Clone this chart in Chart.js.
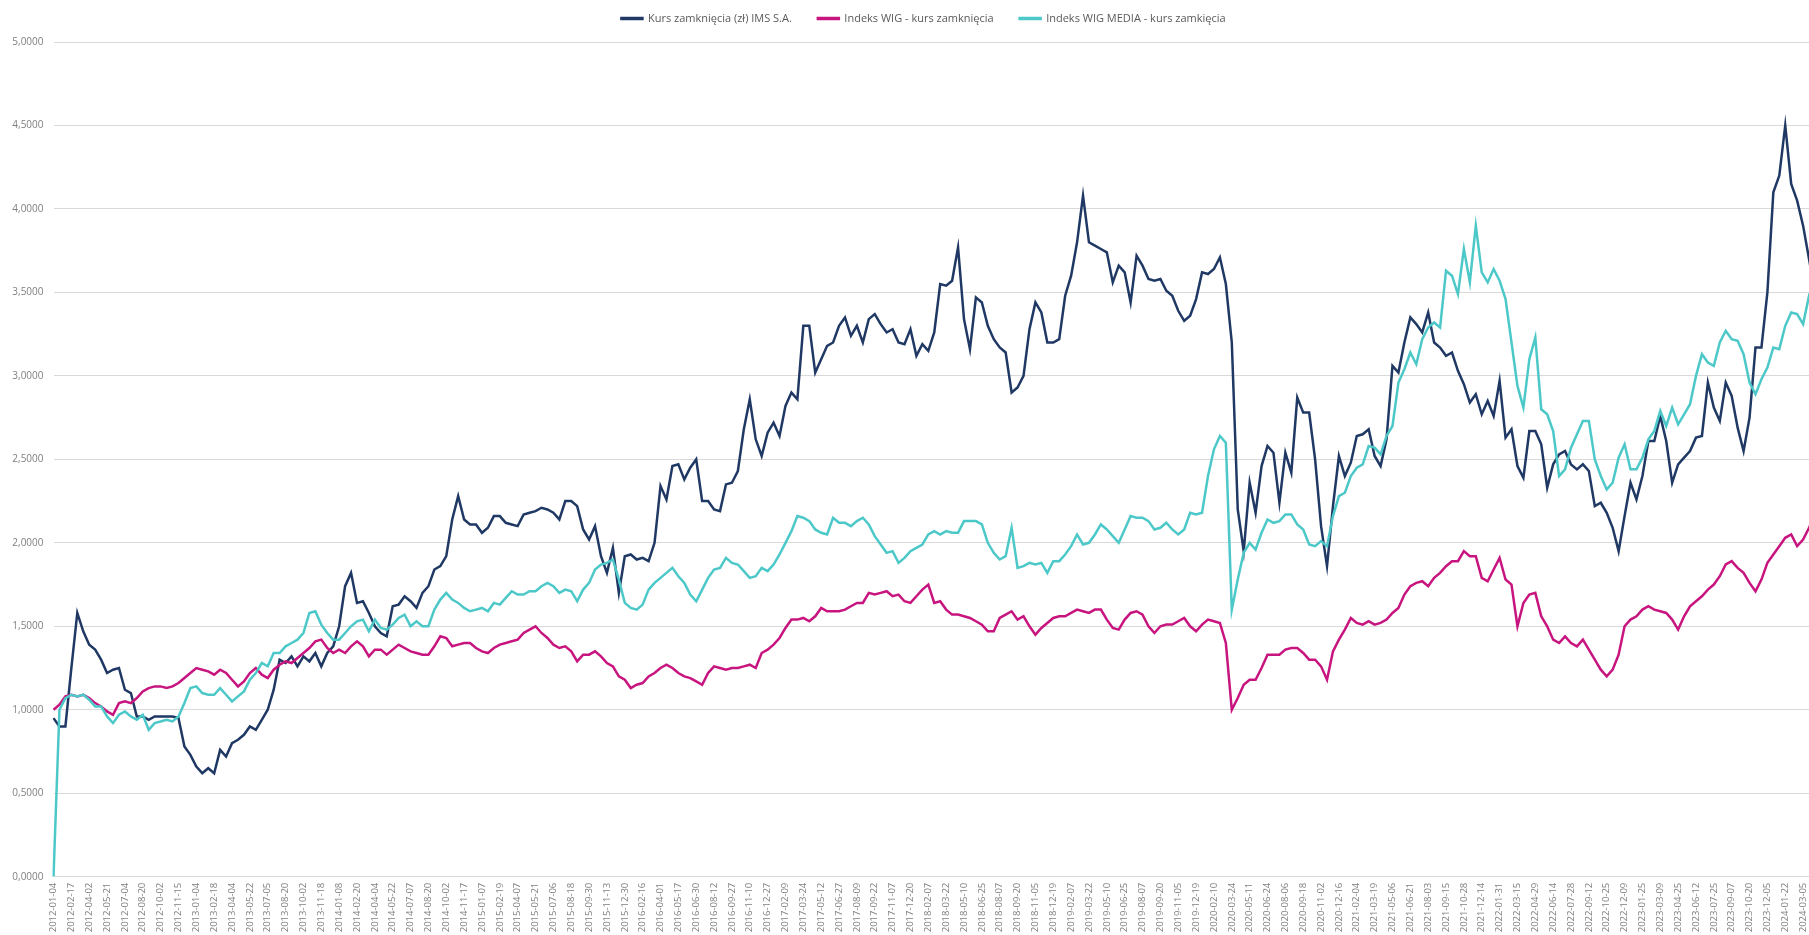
<!DOCTYPE html>
<html>
<head>
<meta charset="utf-8">
<script src="https://cdn.jsdelivr.net/npm/chart.js@4"></script>
<style>
  html, body { margin: 0; padding: 0; background: #fff; overflow: hidden; }
  #wrap { width: 1846px; height: 935px; }
</style>
</head>
<body>
<div id="wrap"><canvas id="chart" width="1846" height="935"></canvas></div>
<script>
// tick dates shown on the x axis (one every 3 points)
const tickDates = [
  '2012-01-04','2012-02-17','2012-04-02','2012-05-21','2012-07-04','2012-08-20','2012-10-02','2012-11-15',
  '2013-01-04','2013-02-18','2013-04-04','2013-05-22','2013-07-05','2013-08-20','2013-10-02','2013-11-18',
  '2014-01-08','2014-02-20','2014-04-04','2014-05-22','2014-07-07','2014-08-20','2014-10-02','2014-11-17',
  '2015-01-07','2015-02-19','2015-04-07','2015-05-21','2015-07-06','2015-08-18','2015-09-30','2015-11-13','2015-12-30',
  '2016-02-16','2016-04-01','2016-05-17','2016-06-30','2016-08-12','2016-09-27','2016-11-10','2016-12-27',
  '2017-02-09','2017-03-24','2017-05-12','2017-06-27','2017-08-09','2017-09-22','2017-11-07','2017-12-20',
  '2018-02-07','2018-03-22','2018-05-10','2018-06-25','2018-08-07','2018-09-20','2018-11-05','2018-12-19',
  '2019-02-07','2019-03-22','2019-05-10','2019-06-25','2019-08-07','2019-09-20','2019-11-05','2019-12-19',
  '2020-02-10','2020-03-24','2020-05-11','2020-06-24','2020-08-06','2020-09-18','2020-11-02','2020-12-16',
  '2021-02-04','2021-03-19','2021-05-06','2021-06-21','2021-08-03','2021-09-15','2021-10-28','2021-12-14',
  '2022-01-31','2022-03-15','2022-04-29','2022-06-14','2022-07-28','2022-09-12','2022-10-25','2022-12-09',
  '2023-01-25','2023-03-09','2023-04-25','2023-06-12','2023-07-25','2023-09-07','2023-10-20','2023-12-05',
  '2024-01-22','2024-03-05'
];
const pointsPerTick = 3;

// Kurs zamknięcia (zł) IMS S.A.
const imsClose = [
  0.95,0.90,0.90,1.25,1.58,1.47,1.39,1.36,1.30,1.22,
  1.24,1.25,1.12,1.10,0.96,0.96,0.94,0.96,0.96,0.96,
  0.96,0.95,0.78,0.73,0.66,0.62,0.65,0.62,0.76,0.72,
  0.80,0.82,0.85,0.90,0.88,0.94,1.00,1.12,1.30,1.28,
  1.32,1.26,1.32,1.29,1.34,1.26,1.34,1.38,1.50,1.74,
  1.82,1.64,1.65,1.58,1.50,1.46,1.44,1.62,1.63,1.68,
  1.65,1.61,1.70,1.74,1.84,1.86,1.92,2.14,2.28,2.14,
  2.11,2.11,2.06,2.09,2.16,2.16,2.12,2.11,2.10,2.17,
  2.18,2.19,2.21,2.20,2.18,2.14,2.25,2.25,2.22,2.08,
  2.02,2.10,1.92,1.82,1.97,1.70,1.92,1.93,1.90,1.91,
  1.89,2.00,2.34,2.26,2.46,2.47,2.38,2.45,2.50,2.25,
  2.25,2.20,2.19,2.35,2.36,2.43,2.68,2.86,2.62,2.52,
  2.66,2.72,2.64,2.82,2.90,2.86,3.30,3.30,3.02,3.10,
  3.18,3.20,3.30,3.35,3.24,3.30,3.20,3.34,3.37,3.31,
  3.26,3.28,3.20,3.19,3.28,3.12,3.19,3.15,3.26,3.55,
  3.54,3.57,3.77,3.34,3.16,3.47,3.44,3.30,3.22,3.17,
  3.14,2.90,2.93,3.00,3.28,3.44,3.38,3.20,3.20,3.22,
  3.48,3.60,3.80,4.08,3.80,3.78,3.76,3.74,3.56,3.66,
  3.62,3.44,3.72,3.66,3.58,3.57,3.58,3.51,3.48,3.39,
  3.33,3.36,3.46,3.62,3.61,3.64,3.71,3.55,3.20,2.20,
  1.95,2.36,2.18,2.46,2.58,2.54,2.24,2.54,2.42,2.87,
  2.78,2.78,2.50,2.10,1.86,2.22,2.52,2.40,2.48,2.64,
  2.65,2.68,2.52,2.46,2.62,3.06,3.02,3.20,3.35,3.31,
  3.26,3.38,3.20,3.17,3.12,3.14,3.03,2.95,2.84,2.89,
  2.77,2.85,2.76,2.97,2.63,2.68,2.46,2.39,2.67,2.67,
  2.59,2.33,2.47,2.53,2.55,2.47,2.44,2.47,2.43,2.22,
  2.24,2.18,2.09,1.95,2.16,2.36,2.26,2.40,2.61,2.61,
  2.76,2.61,2.36,2.47,2.51,2.55,2.63,2.64,2.96,2.81,
  2.73,2.96,2.88,2.69,2.55,2.75,3.17,3.17,3.50,4.10,
  4.20,4.50,4.15,4.05,3.90,3.70,3.93
];

// Indeks WIG - kurs zamknięcia
const wigClose = [
  1.00,1.03,1.08,1.09,1.08,1.09,1.07,1.04,1.02,0.99,
  0.97,1.04,1.05,1.04,1.07,1.11,1.13,1.14,1.14,1.13,
  1.14,1.16,1.19,1.22,1.25,1.24,1.23,1.21,1.24,1.22,
  1.18,1.14,1.17,1.22,1.25,1.21,1.19,1.24,1.27,1.29,
  1.28,1.31,1.34,1.37,1.41,1.42,1.37,1.34,1.36,1.34,
  1.38,1.41,1.38,1.32,1.36,1.36,1.33,1.36,1.39,1.37,
  1.35,1.34,1.33,1.33,1.38,1.44,1.43,1.38,1.39,1.40,
  1.40,1.37,1.35,1.34,1.37,1.39,1.40,1.41,1.42,1.46,
  1.48,1.50,1.46,1.43,1.39,1.37,1.38,1.35,1.29,1.33,
  1.33,1.35,1.32,1.28,1.26,1.20,1.18,1.13,1.15,1.16,
  1.20,1.22,1.25,1.27,1.25,1.22,1.20,1.19,1.17,1.15,
  1.22,1.26,1.25,1.24,1.25,1.25,1.26,1.27,1.25,1.34,
  1.36,1.39,1.43,1.49,1.54,1.54,1.55,1.53,1.56,1.61,
  1.59,1.59,1.59,1.60,1.62,1.64,1.64,1.70,1.69,1.70,
  1.71,1.68,1.69,1.65,1.64,1.68,1.72,1.75,1.64,1.65,
  1.60,1.57,1.57,1.56,1.55,1.53,1.51,1.47,1.47,1.55,
  1.57,1.59,1.54,1.56,1.50,1.45,1.49,1.52,1.55,1.56,
  1.56,1.58,1.60,1.59,1.58,1.60,1.60,1.54,1.49,1.48,
  1.54,1.58,1.59,1.57,1.50,1.46,1.50,1.51,1.51,1.53,
  1.55,1.50,1.47,1.51,1.54,1.53,1.52,1.40,1.00,1.07,
  1.15,1.18,1.18,1.25,1.33,1.33,1.33,1.36,1.37,1.37,
  1.34,1.30,1.30,1.26,1.18,1.35,1.42,1.48,1.55,1.52,
  1.51,1.53,1.51,1.52,1.54,1.58,1.61,1.69,1.74,1.76,
  1.77,1.74,1.79,1.82,1.86,1.89,1.89,1.95,1.92,1.92,
  1.79,1.77,1.84,1.91,1.78,1.75,1.50,1.64,1.69,1.70,
  1.56,1.50,1.42,1.40,1.44,1.40,1.38,1.42,1.36,1.30,
  1.24,1.20,1.24,1.33,1.50,1.54,1.56,1.60,1.62,1.60,
  1.59,1.58,1.54,1.48,1.56,1.62,1.65,1.68,1.72,1.75,
  1.80,1.87,1.89,1.85,1.82,1.76,1.71,1.78,1.88,1.93,
  1.98,2.03,2.05,1.98,2.02,2.09,2.17
];

// Indeks WIG MEDIA - kurs zamkięcia
const wigMediaClose = [
  0.00,1.00,1.07,1.09,1.08,1.09,1.06,1.02,1.02,0.96,
  0.92,0.97,0.99,0.96,0.94,0.97,0.88,0.92,0.93,0.94,
  0.93,0.96,1.04,1.13,1.14,1.10,1.09,1.09,1.13,1.09,
  1.05,1.08,1.11,1.18,1.22,1.28,1.26,1.34,1.34,1.38,
  1.40,1.42,1.46,1.58,1.59,1.51,1.46,1.42,1.42,1.46,
  1.50,1.53,1.54,1.47,1.54,1.49,1.48,1.51,1.55,1.57,
  1.50,1.53,1.50,1.50,1.60,1.66,1.70,1.66,1.64,1.61,
  1.59,1.60,1.61,1.59,1.64,1.63,1.67,1.71,1.69,1.69,
  1.71,1.71,1.74,1.76,1.74,1.70,1.72,1.71,1.65,1.72,
  1.76,1.84,1.87,1.88,1.90,1.78,1.64,1.61,1.60,1.63,
  1.72,1.76,1.79,1.82,1.85,1.80,1.76,1.69,1.65,1.72,
  1.79,1.84,1.85,1.91,1.88,1.87,1.83,1.79,1.80,1.85,
  1.83,1.87,1.93,2.00,2.07,2.16,2.15,2.13,2.08,2.06,
  2.05,2.15,2.12,2.12,2.10,2.13,2.15,2.11,2.04,1.99,
  1.94,1.95,1.88,1.91,1.95,1.97,1.99,2.05,2.07,2.05,
  2.07,2.06,2.06,2.13,2.13,2.13,2.11,2.00,1.94,1.90,
  1.92,2.09,1.85,1.86,1.88,1.87,1.88,1.82,1.89,1.89,
  1.93,1.98,2.05,1.99,2.00,2.05,2.11,2.08,2.04,2.00,
  2.08,2.16,2.15,2.15,2.13,2.08,2.09,2.12,2.08,2.05,
  2.08,2.18,2.17,2.18,2.40,2.56,2.64,2.60,1.60,1.78,
  1.94,2.00,1.96,2.06,2.14,2.12,2.13,2.17,2.17,2.11,
  2.08,1.99,1.98,2.01,1.98,2.16,2.28,2.30,2.40,2.45,
  2.47,2.58,2.57,2.53,2.64,2.70,2.96,3.04,3.14,3.07,
  3.22,3.29,3.32,3.29,3.63,3.60,3.49,3.76,3.56,3.90,
  3.62,3.56,3.64,3.57,3.46,3.20,2.94,2.81,3.10,3.23,
  2.80,2.77,2.67,2.40,2.44,2.57,2.65,2.73,2.73,2.50,
  2.40,2.32,2.36,2.51,2.59,2.44,2.44,2.51,2.62,2.67,
  2.79,2.70,2.81,2.71,2.77,2.83,3.00,3.13,3.08,3.06,
  3.20,3.27,3.22,3.21,3.13,2.96,2.89,2.98,3.05,3.17,
  3.16,3.30,3.38,3.37,3.31,3.48,3.43
];

// one label per point, date only on tick positions
const labels = [];
tickDates.forEach(d => {
  labels.push(d);
  for (let k = 1; k < pointsPerTick; k++) labels.push('');
});
labels.length = imsClose.length;

Chart.defaults.font.family = "'Open Sans', sans-serif";

// the legend sits a bit higher and to the right in the original
const legendNudge = {
  id: 'legendNudge',
  afterLayout(chart) {
    const lg = chart.legend;
    lg.top -= 8; lg.bottom -= 8;
    lg.left += 16; lg.right += 16;
  }
};

new Chart(document.getElementById('chart'), {
  type: 'line',
  data: {
    labels: labels,
    datasets: [
      { label: 'Kurs zamknięcia (zł) IMS S.A.', data: imsClose, borderColor: '#1f3864', backgroundColor: '#1f3864', order: 3 },
      { label: 'Indeks WIG - kurs zamknięcia', data: wigClose, borderColor: '#c8147e', backgroundColor: '#c8147e', order: 2 },
      { label: 'Indeks WIG MEDIA - kurs zamkięcia', data: wigMediaClose, borderColor: '#4dc8c8', backgroundColor: '#4dc8c8', order: 1 }
    ]
  },
  options: {
    responsive: false,
    animation: false,
    layout: { padding: { top: -5, right: 31, left: 0, bottom: 0 } },
    elements: {
      point: { radius: 0 },
      line: { borderWidth: 2.5, tension: 0 }
    },
    plugins: {
      legend: {
        position: 'top',
        labels: {
          boxWidth: 21,
          boxHeight: 1,
          padding: 26,
          color: '#595959',
          font: { size: 11 },
          sort: (a, b) => a.datasetIndex - b.datasetIndex
        }
      },
      tooltip: { enabled: false }
    },
    scales: {
      x: {
        grid: { display: false, drawTicks: false },
        border: { display: false },
        ticks: {
          autoSkip: false,
          minRotation: 90,
          maxRotation: 90,
          padding: 6,
          color: '#7f7f7f',
          font: { size: 9.5 }
        },
        afterFit(scale) { scale.height = 58.3; }
      },
      y: {
        min: 0,
        max: 5,
        grid: { color: '#d9d9d9', drawTicks: false },
        border: { display: false },
        ticks: {
          stepSize: 0.5,
          padding: 10,
          color: '#7f7f7f',
          font: { size: 10 },
          callback: v => v.toFixed(4).replace('.', ',')
        },
        afterFit(scale) { scale.width = 53.5; }
      }
    }
  },
  plugins: [legendNudge]
});
</script>
</body>
</html>
